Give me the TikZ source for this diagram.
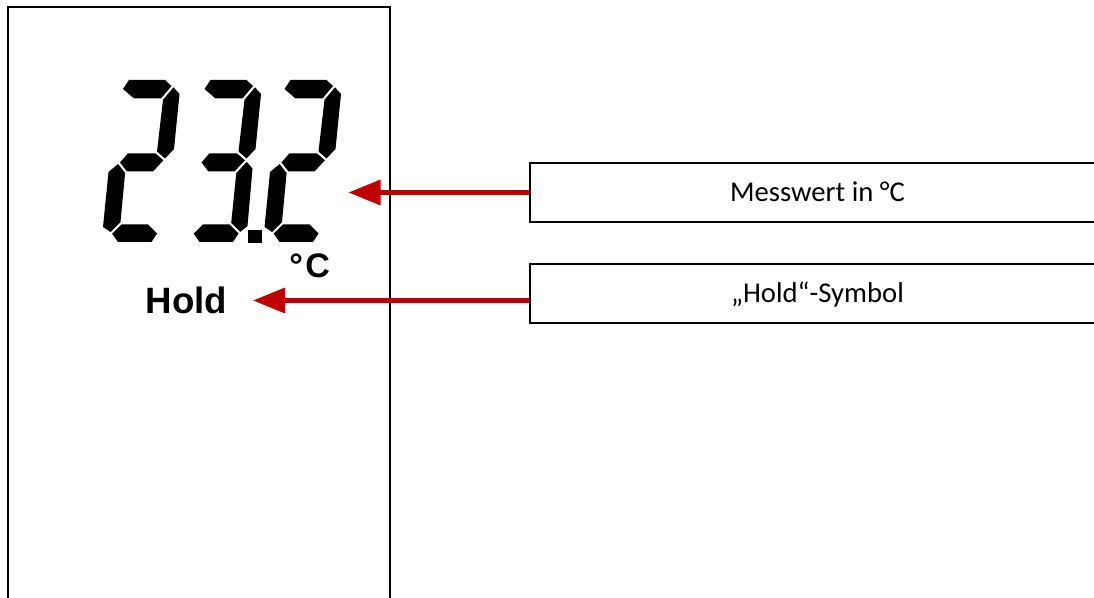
\documentclass[tikz,border=0pt]{standalone}
\usepackage{fontspec}
\setmainfont{Carlito}
\newfontfamily\arialfont{Liberation Sans}
\usetikzlibrary{arrows.meta}
\definecolor{arrowred}{HTML}{C00000}
% seven-segment pieces (digit-1 frame, pixel units, y downwards)
\newcommand\segtop{\fill[lcdfill] (123,89) -- (129,80) -- (165,80) -- (171.5,86) -- (161,98.5) -- (134,98.5) -- cycle;}
\newcommand\segupright{\fill[lcdfill] (173.5,87.3) -- (179.5,94) -- (174,149) -- (165,158.5) -- (157,151.5) -- (163,99.8) -- cycle;}
\newcommand\segmid{\fill[lcdfill] (120,162.5) -- (128,153.3) -- (155.4,153.3) -- (163.4,160.3) -- (153,171.5) -- (127,171.5) -- cycle;}
\newcommand\seglowleft{\fill[lcdfill] (118.1,164) -- (125.1,173) -- (120.5,222) -- (110.5,232) -- (103,227) -- (108.5,172) -- cycle;}
\newcommand\seglowright{\fill[lcdfill] (165.2,161.9) -- (171,168.5) -- (166,226) -- (158.7,231.8) -- (149.7,222.8) -- (154.8,173.1) -- cycle;}
\newcommand\segbottom{\fill[lcdfill] (112.2,233.7) -- (121.4,224.5) -- (148,224.5) -- (157,233.5) -- (151.5,242) -- (118,242) -- cycle;}
\begin{document}
\begin{tikzpicture}[x=0.75pt,y=-0.75pt,
  lcdfill/.style={fill=black},
  labelbox/.style={draw=black,line width=1.3pt,minimum width=431.25pt,minimum height=44pt,
    inner sep=0pt,font=\fontsize{21.5}{26}\selectfont,text height=13.9pt,text depth=0pt},
  pointer/.style={draw=arrowred,line width=3.4pt,-{Triangle[length=24pt,width=18.5pt]}},
  lcdtext/.style={font=\arialfont\bfseries,inner sep=0pt}]
\useasboundingbox (0,0) rectangle (1094,598);
\clip (0,0) rectangle (1094,598);
\fill[white] (0,0) rectangle (1094,598);
% display outline
\draw[line width=1.5pt] (8,7) rectangle (389.5,640);
% digit "2"
\segtop \segupright \segmid \seglowleft \segbottom
% digit "3"
\begin{scope}[shift={(81.5,0)}]
\segtop \segupright \segmid \seglowright \segbottom
\end{scope}
% decimal point
\fill[lcdfill] (248,230) rectangle (261.5,243.5);
% digit "2"
\begin{scope}[shift={(161.5,0)}]
\segtop \segupright \segmid \seglowleft \segbottom
\end{scope}
% unit and hold symbol
\node[lcdtext,font=\arialfont\bfseries\fontsize{25.5}{30}\selectfont,anchor=base west] (unit) at (289,277.3) {°\kern1.8pt C};
\node[lcdtext,font=\arialfont\bfseries\fontsize{27.5}{33}\selectfont,anchor=base west] (hold) at (145.5,313.3) {Hold};
% label boxes
\node[labelbox] (msg) at (817.5,192.5) {Messwert in °C};
\node[labelbox] (hsym) at (817.5,293.3) {„Hold“-Symbol};
% pointers
\coordinate (valtip) at (348.5,192.5);
\coordinate (holdtip) at (253,300.5);
\draw[pointer] (msg.west) -- (valtip);
\draw[pointer] (hsym.west |- holdtip) -- (holdtip);
\end{tikzpicture}
\end{document}
